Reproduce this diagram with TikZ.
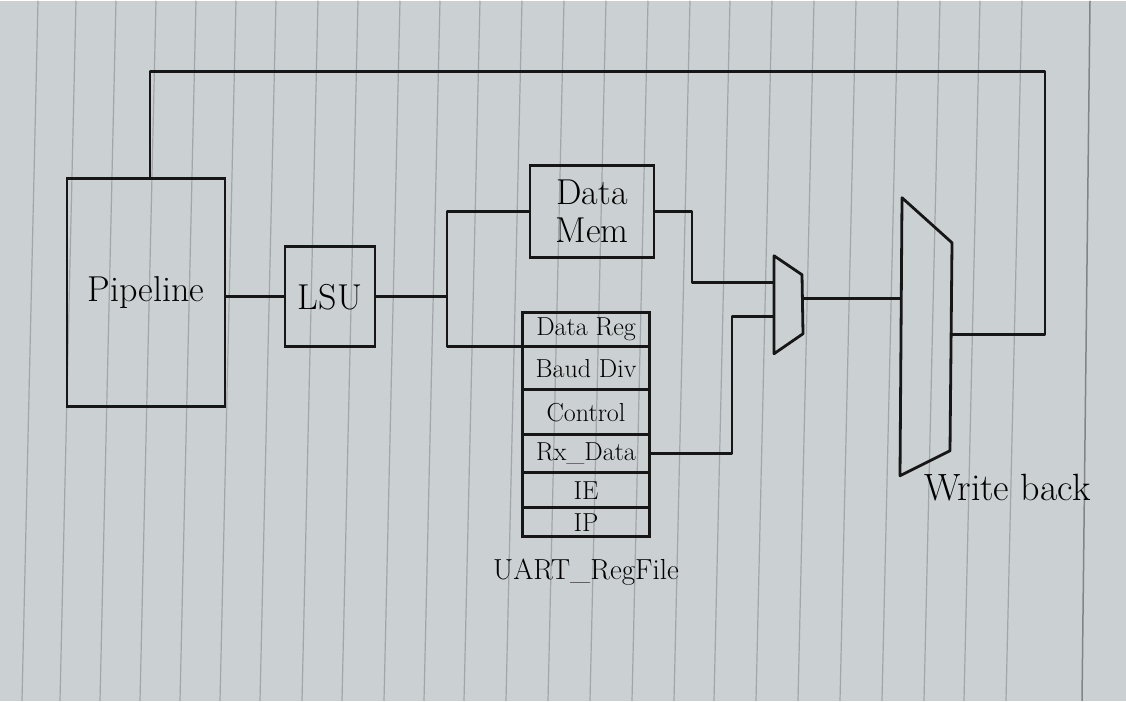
\documentclass[tikz,border=0pt]{standalone}
\usepackage{fontspec}
\setmainfont{Latin Modern Roman}
\usetikzlibrary{positioning}
\usepackage{xcolor}

\definecolor{paper}{RGB}{203,208,210}
\definecolor{rule}{RGB}{160,166,170}
\definecolor{ink}{RGB}{22,22,22}

\begin{document}
\begin{tikzpicture}[
  x=1pt, y=-1pt,
  box/.style   = {
    draw=ink, line width=2.8pt,
    align=center,
    inner sep=0pt, outer sep=0pt,
    font=\fontsize{36}{38}\selectfont
  },
  reg/.style   = {
    draw=ink, line width=2.6pt,
    inner sep=0pt, outer sep=0pt,
    minimum width=\regw,
    font=\fontsize{26}{28}\selectfont
  },
  wire/.style  = {draw=ink, line width=2.8pt, line join=round},
  label/.style = {font=\fontsize{29}{31}\selectfont, inner sep=0pt}
]

% ---- constants ----
\def\regw{127pt}     % width of the UART register file

% ---- paper ----
\fill[paper] (0,0) rectangle (1126,700);
\foreach \x in {30,68,108,148,188,228,268,310,350,392,432,472,514,556,598,640,682,722,764,806,848,890,932,972,1014}
  \draw[rule, line width=1.2pt] (\x+8,0) -- (\x-8,700);
\draw[rule!80!black, line width=1.5pt] (1090,0) -- (1082,700);
\useasboundingbox (0,0) rectangle (1126,700);

% ---- blocks ----
\node[box, minimum width=158pt, minimum height=228pt] (pipe) at (146,292) {Pipeline};
\node[box, minimum width=90pt, minimum height=100pt] (lsu) at (330,296) {LSU};
\node[box, minimum width=124pt, minimum height=92pt] (dmem) at (592,211) {Data\\Mem};

% ---- UART register file ----
\node[reg, minimum height=34pt] (dreg) at (586,329) {Data Reg};
\node[reg, minimum height=43pt, below=0pt of dreg] (baud) {Baud Div};
\node[reg, minimum height=45pt, below=0pt of baud] (ctrl) {Control};
\node[reg, minimum height=38pt, below=0pt of ctrl] (rxd) {Rx\_Data};
\node[reg, minimum height=35pt, below=0pt of rxd] (ie) {IE};
\node[reg, minimum height=29pt, below=0pt of ie] (ip) {IP};
\node[label, below=22pt of ip] (uartlbl) {UART\_RegFile};

% ---- small mux ----
\coordinate (mtl) at (774,255);
\coordinate (mtr) at (802,274);
\coordinate (mbr) at (803,333);
\coordinate (mbl) at (774,353);
\draw[wire] (mtl) -- (mtr) -- (mbr) -- (mbl) -- cycle;
\coordinate (min1) at (774,282);
\coordinate (min2) at (774,316);
\coordinate (mout) at (803,298);

% ---- write back mux ----
\coordinate (wtl) at (902,197);
\coordinate (wtr) at (952,242);
\coordinate (wbr) at (950,450);
\coordinate (wbl) at (900,475);
\draw[wire] (wtl) -- (wtr) -- (wbr) -- (wbl) -- cycle;
\coordinate (win) at (901,295);
\coordinate (wout) at (951,334);
\node[label, font=\fontsize{38}{40}\selectfont, anchor=west] (wblbl) at (924,487) {Write back};

% ---- connectors ----
\draw[wire] (pipe.east |- lsu) -- (lsu.west);
\coordinate (split) at (447,296);
\draw[wire] (lsu.east) -- (split);
\draw[wire] (dmem.west) -| (split) |- (dreg.south west);
\draw[wire] (dmem.east) -- ++(38,0) |- (min1);
\draw[wire] (rxd.east) -| (732,316) -- (min2);
\draw[wire] (mout) -- (mout -| win);
\draw[wire] (wout) -- (1045,334) -- (1045,71) -| (pipe.north -| 150,0);

\end{tikzpicture}
\end{document}
